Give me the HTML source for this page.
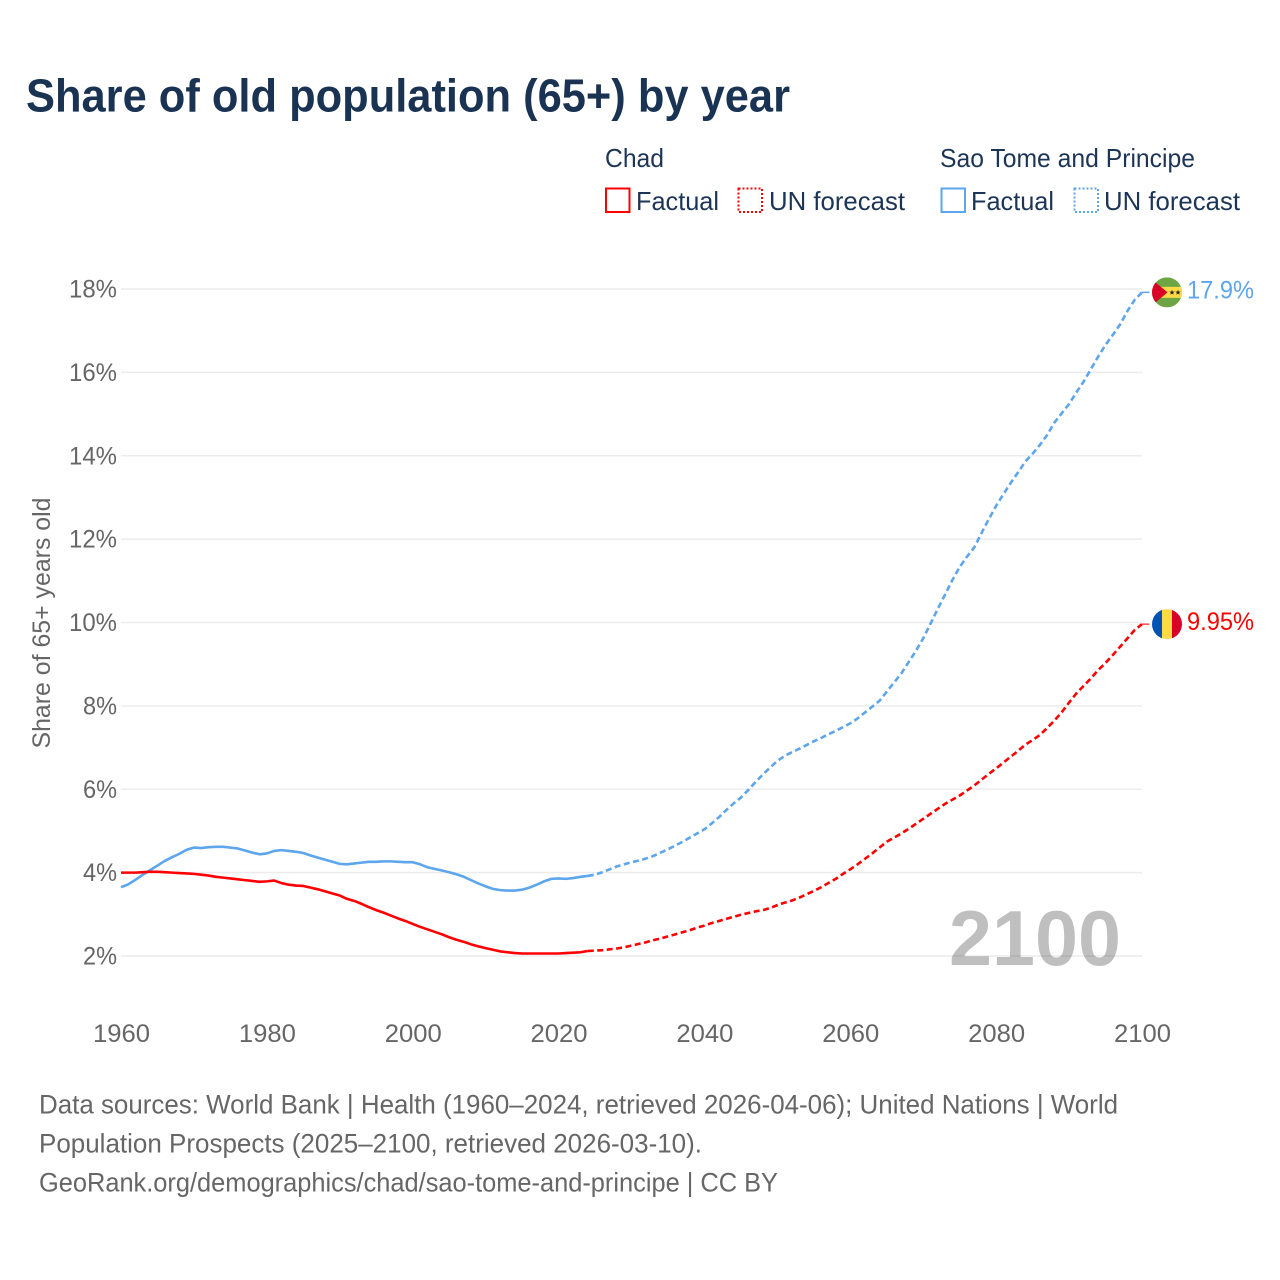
<!DOCTYPE html>
<html lang="en">
<head>
<meta charset="utf-8">
<title>Share of old population (65+) by year</title>
<style>
html,body{margin:0;padding:0;background:#fff;}
svg{display:block;font-family:"Liberation Sans",sans-serif;}
</style>
</head>
<body>
<svg id="chart" width="1280" height="1280" viewBox="0 0 1280 1280" xmlns="http://www.w3.org/2000/svg">
  <rect x="0" y="0" width="1280" height="1280" fill="#ffffff"/>
  <text x="26" y="111.5" font-size="46" font-weight="700" fill="#1a3353" textLength="764" lengthAdjust="spacingAndGlyphs">Share of old population (65+) by year</text>

  <g font-size="26" fill="#1c3557">
    <text x="605" y="167" textLength="59" lengthAdjust="spacingAndGlyphs">Chad</text>
    <text x="940" y="167" textLength="255" lengthAdjust="spacingAndGlyphs">Sao Tome and Principe</text>
    <rect x="606" y="188.5" width="23.5" height="23.5" fill="none" stroke="#ff0000" stroke-width="2"/>
    <text x="636" y="210" textLength="83" lengthAdjust="spacingAndGlyphs">Factual</text>
    <rect x="738.5" y="188.5" width="23.5" height="23.5" fill="none" stroke="#ff0000" stroke-width="2" stroke-dasharray="2 2"/>
    <text x="769" y="210" textLength="136" lengthAdjust="spacingAndGlyphs">UN forecast</text>
    <rect x="941.5" y="188.5" width="23.5" height="23.5" fill="none" stroke="#5da5ec" stroke-width="2"/>
    <text x="971" y="210" textLength="83" lengthAdjust="spacingAndGlyphs">Factual</text>
    <rect x="1074.5" y="188.5" width="23.5" height="23.5" fill="none" stroke="#5da5ec" stroke-width="2" stroke-dasharray="2 2"/>
    <text x="1104" y="210" textLength="136" lengthAdjust="spacingAndGlyphs">UN forecast</text>
  </g>

  <g id="grid"></g>
  <g id="yticks"></g>
  <g id="xticks"></g>
  <text transform="translate(50,623) rotate(-90)" text-anchor="middle" font-size="25" fill="#666666" textLength="251" lengthAdjust="spacingAndGlyphs">Share of 65+ years old</text>

  <text x="949" y="965" font-size="78" font-weight="700" fill="#000000" fill-opacity="0.25" textLength="172" lengthAdjust="spacingAndGlyphs">2100</text>

  <g id="series"></g>

  <defs>
    <clipPath id="flag-clip"><circle cx="0" cy="0" r="15"/></clipPath>
  </defs>
  <g id="flag-stp">
    <g clip-path="url(#flag-clip)">
      <rect x="-15" y="-15" width="30" height="30" fill="#6da544"/>
      <rect x="-15" y="-5.5" width="30" height="11" fill="#ffda44"/>
      <polygon points="-15,-13 0.5,0 -15,13" fill="#d80027"/>
      <polygon points="5,-2.6 5.7,-0.7 7.7,-0.7 6.1,0.5 6.7,2.4 5,1.3 3.3,2.4 3.9,0.5 2.3,-0.7 4.3,-0.7" fill="#222222"/>
      <polygon points="11,-2.6 11.7,-0.7 13.7,-0.7 12.1,0.5 12.7,2.4 11,1.3 9.3,2.4 9.9,0.5 8.3,-0.7 10.3,-0.7" fill="#222222"/>
    </g>
  </g>
  <g id="flag-chad">
    <g clip-path="url(#flag-clip)">
      <rect x="-15" y="-15" width="10" height="30" fill="#0052b4"/>
      <rect x="-5" y="-15" width="10" height="30" fill="#ffda44"/>
      <rect x="5" y="-15" width="10" height="30" fill="#d80027"/>
    </g>
  </g>

  <g font-size="27" fill="#666666">
    <text x="39" y="1113.5" textLength="1079" lengthAdjust="spacingAndGlyphs">Data sources: World Bank | Health (1960–2024, retrieved 2026-04-06); United Nations | World</text>
    <text x="39" y="1152.5" textLength="663" lengthAdjust="spacingAndGlyphs">Population Prospects (2025–2100, retrieved 2026-03-10).</text>
    <text x="39" y="1191.5" textLength="739" lengthAdjust="spacingAndGlyphs">GeoRank.org/demographics/chad/sao-tome-and-principe | CC BY</text>
  </g>
</svg>

<script>
const yTickValues = [2, 4, 6, 8, 10, 12, 14, 16, 18];
const xTickValues = [1960, 1980, 2000, 2020, 2040, 2060, 2080, 2100];
const factualStartYear = 1960;
const forecastStartYear = 2024;

const chadFactual = [
  4.00,4.00,4.00,4.01,4.02,4.02,4.01,4.00,3.99,3.98,
  3.97,3.95,3.93,3.90,3.88,3.86,3.84,3.82,3.80,3.78,
  3.79,3.81,3.75,3.71,3.69,3.68,3.64,3.60,3.55,3.50,
  3.45,3.37,3.32,3.25,3.17,3.10,3.04,2.97,2.90,2.84,
  2.77,2.70,2.64,2.58,2.52,2.45,2.39,2.34,2.28,2.23,
  2.19,2.15,2.11,2.09,2.07,2.06,2.06,2.06,2.06,2.06,
  2.06,2.07,2.08,2.09,2.12
];
const chadForecast = [
  2.12,2.13,2.14,2.16,2.18,2.21,2.25,2.29,2.33,2.38,2.42,2.47,2.52,2.57,2.62,2.68,
  2.73,2.79,2.84,2.89,2.94,2.99,3.03,3.07,3.10,3.15,
  3.22,3.28,3.33,3.40,3.48,3.56,3.65,3.75,3.85,3.97,
  4.08,4.20,4.33,4.46,4.60,4.74,4.84,4.94,5.05,5.17,
  5.29,5.41,5.53,5.65,5.75,5.85,5.97,6.09,6.23,6.37,
  6.50,6.64,6.78,6.92,7.07,7.18,7.30,7.47,7.65,7.85,
  8.08,8.30,8.48,8.66,8.86,9.03,9.22,9.42,9.62,9.82,9.96
];
const stpFactual = [
  3.65,3.72,3.83,3.95,4.06,4.17,4.28,4.37,4.45,4.55,
  4.60,4.59,4.61,4.62,4.62,4.60,4.58,4.53,4.48,4.44,
  4.46,4.52,4.54,4.52,4.50,4.47,4.41,4.36,4.31,4.26,
  4.21,4.20,4.22,4.24,4.26,4.26,4.27,4.27,4.26,4.25,
  4.25,4.20,4.13,4.09,4.05,4.01,3.96,3.90,3.82,3.74,
  3.67,3.61,3.58,3.57,3.57,3.59,3.64,3.71,3.79,3.85,
  3.86,3.85,3.87,3.90,3.92
];
const stpForecast = [
  3.92,3.95,4.01,4.08,4.15,4.20,4.25,4.29,4.34,4.40,4.48,4.56,4.65,4.74,4.84,4.94,
  5.04,5.18,5.33,5.50,5.66,5.80,5.98,6.17,6.35,6.52,
  6.68,6.80,6.89,6.97,7.06,7.15,7.23,7.32,7.40,7.49,
  7.58,7.70,7.84,7.98,8.12,8.34,8.56,8.78,9.05,9.32,
  9.62,9.97,10.33,10.67,11.02,11.33,11.58,11.80,12.15,12.48,
  12.80,13.08,13.35,13.60,13.86,14.05,14.26,14.50,14.80,15.02,
  15.24,15.52,15.78,16.08,16.38,16.66,16.90,17.15,17.47,17.74,17.92
];
const endLabelChad = "9.95%";
const endLabelStp = "17.9%";

const NS = "http://www.w3.org/2000/svg";
function xScale(year) { return 121 + (year - 1960) * (1142 - 121) / 140; }
function yScale(v) { return 956 - (v - 2) * (956 - 289) / 16; }
function make(tag, parent, attrs) {
  const el = document.createElementNS(NS, tag);
  for (const k in attrs) el.setAttribute(k, attrs[k]);
  parent.appendChild(el);
  return el;
}
function linePath(values, startYear) {
  return values.map(function (v, i) {
    return (i ? "L" : "M") + xScale(startYear + i).toFixed(2) + " " + yScale(v).toFixed(2);
  }).join(" ");
}

const gridG = document.getElementById("grid");
const yG = document.getElementById("yticks");
const xG = document.getElementById("xticks");
const seriesG = document.getElementById("series");
const svgRoot = document.getElementById("chart");

yTickValues.forEach(function (v) {
  const line = make("line", gridG, { x1: xScale(1960), x2: xScale(2100), y1: yScale(v), y2: yScale(v), stroke: "#ececec", "stroke-width": 1.5 });
  
  
  const label = make("text", yG, { x: 117, y: yScale(v) + 8.5, "text-anchor": "end", "font-size": 25, fill: "#666666", textLength: v >= 10 ? 48 : 34, lengthAdjust: "spacingAndGlyphs" });
  
  
  label.textContent = v + "%";
});

xTickValues.forEach(function (year) {
  const label = make("text", xG, { x: xScale(year) + 0.5, y: 1042, "text-anchor": "middle", "font-size": 25, fill: "#666666", textLength: 57, lengthAdjust: "spacingAndGlyphs" });
  
  
  label.textContent = year;
});

const RED = "#ff0000";
const BLUE = "#5da5ec";
const commonLine = { fill: "none", "stroke-width": 2.6, "stroke-linejoin": "round" };

const stpSolid = make("path", seriesG, Object.assign({ d: linePath(stpFactual, factualStartYear), stroke: BLUE }, commonLine));



const stpDash = make("path", seriesG, Object.assign({ d: linePath(stpForecast, forecastStartYear), stroke: BLUE, "stroke-dasharray": "6 3.5" }, commonLine));



const chadSolid = make("path", seriesG, Object.assign({ d: linePath(chadFactual, factualStartYear), stroke: RED }, commonLine));



const chadDash = make("path", seriesG, Object.assign({ d: linePath(chadForecast, forecastStartYear), stroke: RED, "stroke-dasharray": "6 3.5" }, commonLine));



const stpEnd = yScale(stpForecast[stpForecast.length - 1]);
const chadEnd = yScale(chadForecast[chadForecast.length - 1]);

const stpLeader = make("line", seriesG, { x1: xScale(2100), x2: 1149.5, y1: stpEnd, y2: stpEnd, stroke: BLUE, "stroke-width": 1.5 });



const chadLeader = make("line", seriesG, { x1: xScale(2100), x2: 1149.5, y1: chadEnd, y2: chadEnd, stroke: RED, "stroke-width": 1.5, opacity: 0.7 });



document.getElementById("flag-stp").setAttribute("transform", "translate(1167," + stpEnd + ")");
document.getElementById("flag-chad").setAttribute("transform", "translate(1167," + chadEnd + ")");

const stpLabel = make("text", svgRoot, { x: 1187, y: stpEnd + 6, "font-size": 25, fill: BLUE, textLength: 67, lengthAdjust: "spacingAndGlyphs" });


stpLabel.textContent = endLabelStp;

const chadLabel = make("text", svgRoot, { x: 1187, y: chadEnd + 6, "font-size": 25, fill: RED, textLength: 67, lengthAdjust: "spacingAndGlyphs" });


chadLabel.textContent = endLabelChad;
</script>
</body>
</html>
